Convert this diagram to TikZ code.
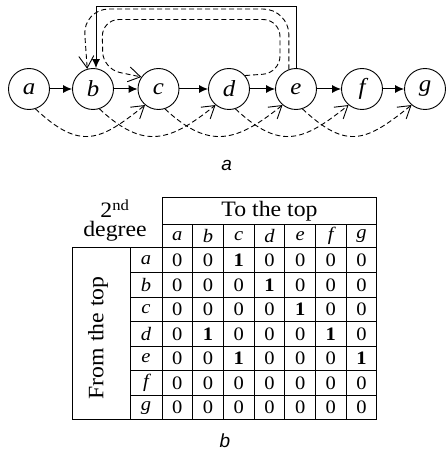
\documentclass[tikz,border=0pt]{standalone}
\usepackage{fontspec}
\setmainfont{Liberation Serif}[FakeStretch=1.08]
\newfontfamily\labfont{Liberation Sans}
\usetikzlibrary{arrows.meta,calc}
\begin{document}
\begin{tikzpicture}[x=1pt,y=1pt,
  vtx/.style={circle,draw,line width=0.9pt,minimum size=41pt,inner sep=0pt,font=\fontsize{23}{24}\selectfont\itshape},
  sarr/.style={line width=1pt,-{Latex[length=9pt,width=8pt]}},
  darr/.style={line width=0.9pt,dash pattern=on 5pt off 3pt,-{Straight Barb[length=12pt,width=15pt,line width=0.9pt]}},
  grid/.style={line width=1pt},
  hd/.style={font=\fontsize{22}{24}\selectfont},
  lab/.style={font=\fontsize{19}{20}\selectfont\itshape},
  num/.style={font=\fontsize{19}{20}\selectfont},
  figlab/.style={font=\labfont\fontsize{19}{21}\selectfont\itshape}]
\useasboundingbox (0,0) rectangle (446,451);
% graph
\node[vtx] (a) at (29,362) {a};
\node[vtx] (b) at (93,362) {b};
\node[vtx] (c) at (158.5,362) {c};
\node[vtx] (d) at (229,362) {d};
\node[vtx] (e) at (296,362) {e};
\node[vtx] (f) at (362,362) {f};
\node[vtx] (g) at (425,362) {g};
\foreach \s/\t in {a/b,b/c,c/d,d/e,e/f,f/g} \draw[sarr] (\s) -- (\t);
\coordinate (bn) at ([xshift=3pt]b.north);
\coordinate (topy) at (0,444.3);
\draw[sarr] (e.north) |- (bn |- topy) -- (bn);
\draw[darr, rounded corners=26pt] (e.110) -- (289,442) -- (83,442) -- (b.106);
\draw[darr, rounded corners=17pt] (d.40) -- (280,378) -- (280,431.5) -- (102,431.5) -- (103,382) -- (c.145);
\foreach \s/\t in {a/c,b/d,c/e,d/f,e/g}
  \draw[darr] (\s.-72) .. controls +(45,-42) and +(-45,-36) .. (\t.-130);
\node[figlab] (la) at (226.7,285.3) {a};
% table
\draw[grid] (162,253) -- (376.9,253) -- (376.9,31) -- (72.7,31) -- (72.7,203) -- (376.9,203);
\draw[grid] (162,253) -- (162,31);
\draw[grid] (162,226.5) -- (376.9,226.5);
\draw[grid] (130,203) -- (130,31);
\foreach \k in {1,...,6} \draw[grid] ({162+30.7*\k},226.5) -- ({162+30.7*\k},31);
\foreach \k in {1,...,6} \draw[grid] (130,{203-24.57*\k}) -- (376.9,{203-24.57*\k});
\node[hd] (to) at (269.5,239.5) {To the top};
\node[anchor=south,inner sep=0pt,align=center,font=\fontsize{22}{18.7}\selectfont] (deg) at (115,209.5) {2\textsuperscript{nd}\\degree};
\node[hd,rotate=90] (from) at (98,113) {From the top};
\foreach [count=\c] \l in {a,b,c,d,e,f,g} {
  \node[lab] (ch\l) at ({162+30.7*(\c-0.5)},214.75) {\l};
  \node[lab] (rh\l) at (146,{203-24.57*(\c-0.5)}) {\l};
}
\foreach [count=\r] \row in {{0,0,1,0,0,0,0},{0,0,0,1,0,0,0},{0,0,0,0,1,0,0},{0,1,0,0,0,1,0},{0,0,1,0,0,0,1},{0,0,0,0,0,0,0},{0,0,0,0,0,0,0}} {
  \foreach [count=\c] \v in \row {
    \node[num] (m-\r-\c) at ({162+30.7*(\c-0.5)},{203-24.57*(\r-0.5)}) {\ifnum\v=1 \bfseries\fi\v};
  }
}
\node[figlab,inner sep=1pt] (lb) at (225,10.5) {b};
\end{tikzpicture}
\end{document}
